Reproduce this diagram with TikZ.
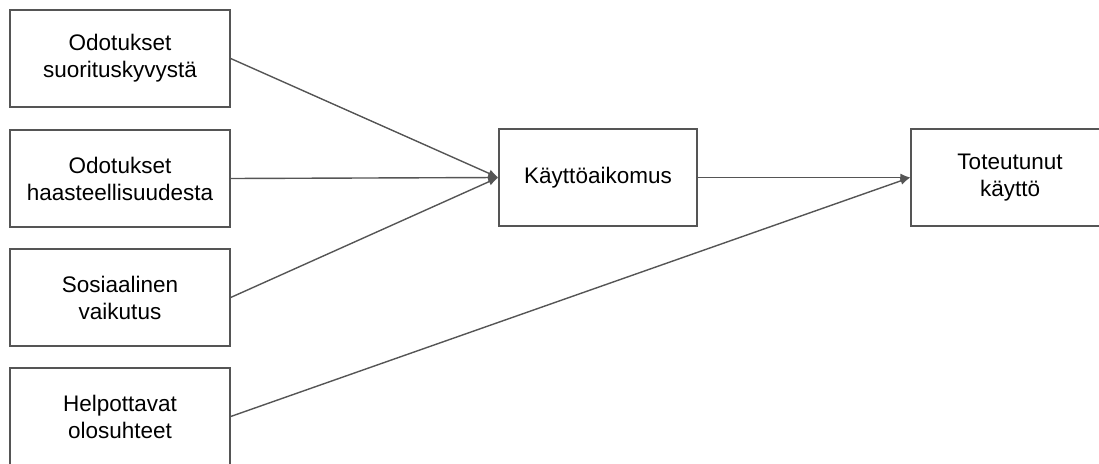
\documentclass[tikz,border=0pt]{standalone}
\usepackage{fontspec}
\setmainfont{Liberation Sans}
\usetikzlibrary{arrows.meta}
\definecolor{edgegray}{RGB}{85,85,85}
\tikzset{
  box/.style={draw=edgegray, line width=1.4pt, fill=white, minimum height=97pt, align=center, inner sep=0pt,
    font=\fontsize{22.5}{27}\selectfont, text=black},
  leftbox/.style={box, minimum width=220pt},
  wide/.style={box, minimum width=198pt},
  conn/.style={draw=edgegray, line width=1.4pt, -{Latex[length=10pt,width=8pt]}},
  plain/.style={draw=edgegray, line width=1.4pt}
}
\begin{document}
\begin{tikzpicture}[x=1pt,y=-1pt]
\useasboundingbox (0,0) rectangle (1099,463);
\clip (0,0) rectangle (1099,463);
\node[leftbox] (a) at (120,58.5) {Odotukset\\suorituskyvystä};
\node[leftbox] (b) at (120,178.5) {Odotukset\\haasteellisuudesta};
\node[leftbox] (c) at (120,297.5) {Sosiaalinen\\vaikutus};
\node[leftbox] (d) at (120,416.5) {Helpottavat\\olosuhteet};
\node[wide] (m) at (598,177.5) {Käyttöaikomus};
\node[wide] (r) at (1010,177.5) {Toteutunut\\käyttö};
\draw[conn] (a.east) -- (m.west);
\draw[conn] (b.east) -- (m.west);
\draw[conn] (c.east) -- (m.west);
\draw[conn] (m.east) -- (r.west);
\draw[conn] (d.east) -- (r.west);
\end{tikzpicture}
\end{document}
